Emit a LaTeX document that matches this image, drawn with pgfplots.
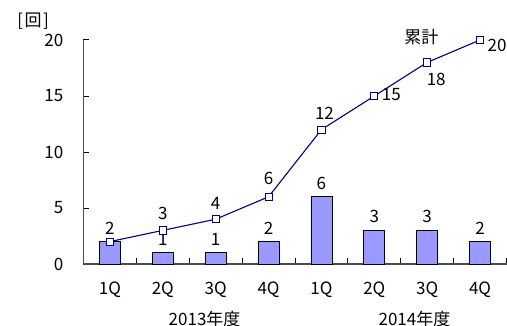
\documentclass[border=0pt]{standalone}
\usepackage{fontspec}
\setmainfont{Noto Sans CJK JP}
\usepackage{pgfplots}
\pgfplotsset{compat=1.18}
\definecolor{barfill}{HTML}{9999FF}
\definecolor{navyline}{HTML}{000080}
\begin{document}
\fontsize{17bp}{20bp}\selectfont
\begin{tikzpicture}
\begin{axis}[
  scale only axis, width=423bp, height=224bp,
  xmin=-0.5, xmax=7.5, ymin=0, ymax=20,
  axis x line*=bottom, axis y line*=left,
  axis line style={black!70, line width=1.4bp, -},
  xtick={0.5,1.5,...,7.5}, xticklabels={},
  extra x ticks={0,1,2,3,4,5,6,7},
  extra x tick labels={1Q,2Q,3Q,4Q,1Q,2Q,3Q,4Q},
  extra x tick style={major tick length=0pt},
  ytick={0,5,10,15,20},
  tick align=inside,
  major tick length=5.5bp,
  tick style={black, line width=1bp},
  /pgf/number format/assume math mode=true,
  xticklabel style={anchor=base, inner sep=0pt, yshift=-30bp},
  yticklabel style={anchor=east, inner sep=0pt, xshift=-20bp},
  clip=false,
]
\addplot[ybar, bar width=21bp, fill=barfill, draw=black, line width=0.8bp,
  nodes near coords, nodes near coords style={anchor=center, yshift=13.5bp, text=black}]
  coordinates {(0,2) (1,1) (2,1) (3,2) (4,6) (5,3) (6,3) (7,2)};
\addplot[navyline, line width=1.1bp, mark=square*, mark size=3.6bp,
  mark options={fill=white, draw=navyline, line width=0.9bp}]
  coordinates {(0,2) (1,3) (2,4) (3,6) (4,12) (5,15) (6,18) (7,20)};
\node at (axis cs:1,3) [yshift=17bp] {3};
\node at (axis cs:2,4) [yshift=16bp] {4};
\node at (axis cs:3,6) [yshift=18bp] {6};
\node at (axis cs:4,12) [xshift=3bp, yshift=16.6bp] {12};
\node at (axis cs:5,15) [xshift=17bp, yshift=1bp] {15};
\node at (axis cs:6,18) [xshift=9bp, yshift=-16.6bp] {18};
\node at (axis cs:7,20) [xshift=17bp, yshift=-5bp] {20};
\node at (axis cs:5.89,20.27) {累計};
\node at (axis cs:-1.453,21.7) {[\kern1.5bp回\kern1.5bp]};
\node[anchor=base] at (axis cs:1.79,0) [yshift=-61bp] {2013年度};
\node[anchor=base] at (axis cs:5.76,0) [yshift=-61bp] {2014年度};
\end{axis}
\pgfresetboundingbox
\path (-83.5bp,-62bp) rectangle (423.5bp,264bp);
\end{tikzpicture}
\end{document}
